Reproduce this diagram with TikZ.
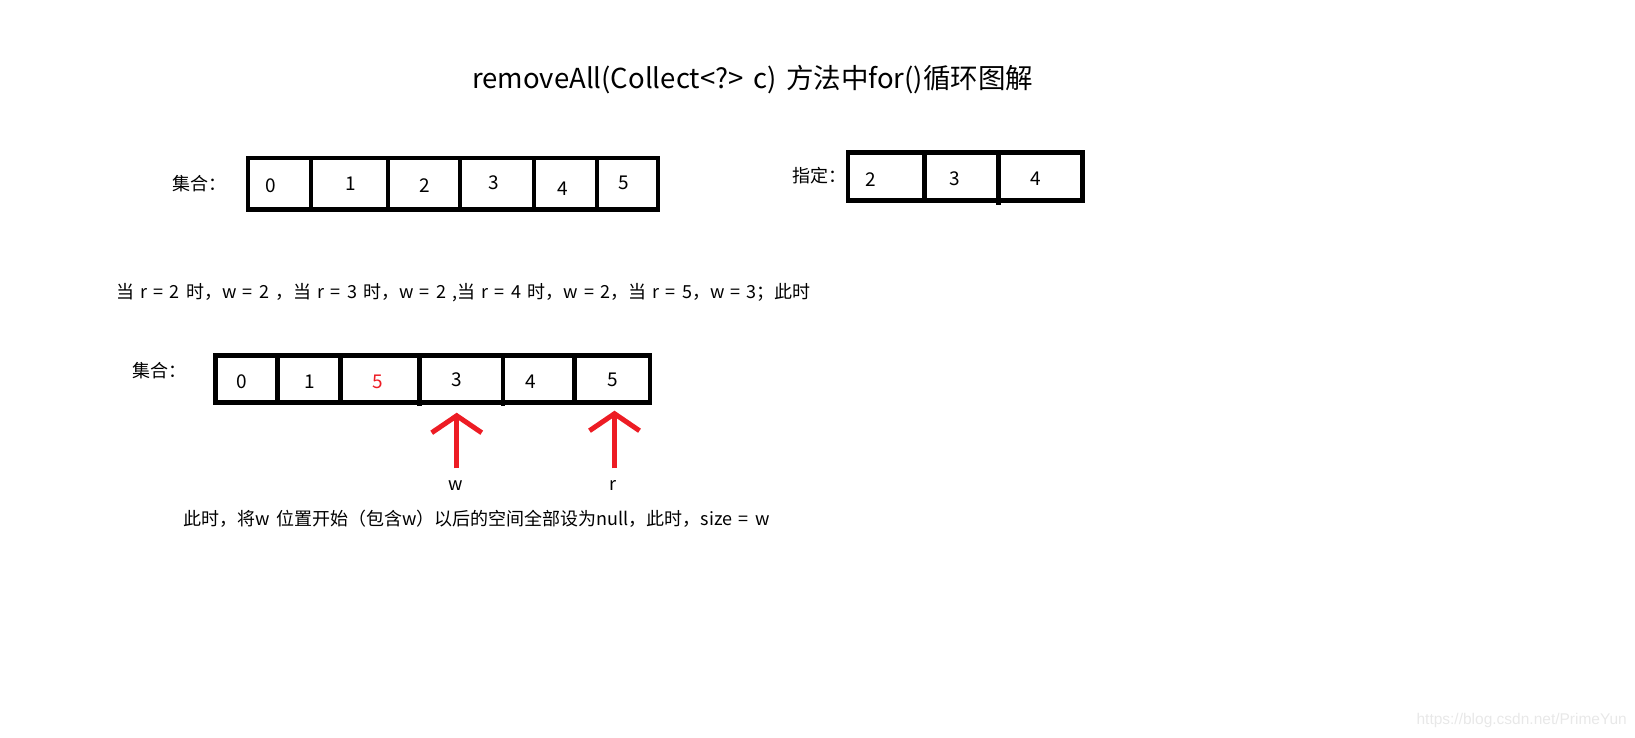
\documentclass[tikz,border=0pt]{standalone}
\usepackage{fontspec}
\setmainfont{Noto Sans CJK SC}[WordSpace=1.55]
\newfontfamily\wmfont{Liberation Sans}
\usetikzlibrary{arrows.meta}
\definecolor{paintred}{RGB}{237,28,36}

\begin{document}
\begin{tikzpicture}[
  frame/.style={line width=4.6pt},
  digit/.style={inner sep=0pt, font=\fontsize{19pt}{19pt}\selectfont},
  caption/.style={inner sep=0pt, anchor=base west, font=\fontsize{18pt}{18pt}\selectfont},
  pointer/.style={paintred, line width=5pt, -{Straight Barb[length=17pt,width=50pt]}}
]
\useasboundingbox (0,0) rectangle (1635pt,-738pt);

\node (title) at (472pt,-88.5pt) [anchor=base west, inner sep=0pt,
      font=\fontsize{27.5pt}{27.5pt}\selectfont] {removeAll(Collect<?> c) 方法中for()循环图解};

% first array
\node (setA) at (172pt,-190pt) [caption] {集合：};
\draw [frame] (248pt,-158pt) rectangle (658pt,-209.5pt);
\draw [frame] (311pt,-158pt) -- ++(0pt,-51.5pt)
              (388pt,-158pt) -- ++(0pt,-51.5pt)
              (460pt,-158pt) -- ++(0pt,-51.5pt)
              (534pt,-158pt) -- ++(0pt,-51.5pt)
              (597pt,-158pt) -- ++(0pt,-51.5pt);
\node (a0) at (270.5pt,-185.3pt) [digit] {0};
\node (a1) at (351pt,-183.8pt) [digit] {1};
\node (a2) at (424.7pt,-186pt) [digit] {2};
\node (a3) at (493.3pt,-183pt) [digit] {3};
\node (a4) at (562.8pt,-188.3pt) [digit] {4};
\node (a5) at (623.3pt,-183pt) [digit] {5};

% given array
\node (given) at (792pt,-182.5pt) [caption] {指定：};
\draw [frame] (848pt,-152.5pt) rectangle (1082.3pt,-200.8pt);
\draw [frame] (924.7pt,-152.5pt) -- ++(0pt,-48.3pt)
              (998.7pt,-152.5pt) -- ++(0pt,-52.5pt);
\node (c2) at (870.5pt,-179.2pt) [digit] {2};
\node (c3) at (954.5pt,-178.5pt) [digit] {3};
\node (c4) at (1035.8pt,-179.2pt) [digit] {4};

\node (steps) at (116pt,-298.5pt) [caption]
      {当 r = 2 时，w = 2 ，当 r = 3 时，w = 2 ,当 r = 4 时，w = 2，当 r = 5，w = 3；此时};

% array after the loop
\node (setB) at (132pt,-377pt) [caption] {集合：};
\draw [frame] (215.3pt,-355.5pt) rectangle (650pt,-402.2pt);
\draw [frame] (277.2pt,-355.5pt) -- ++(0pt,-46.7pt)
              (340.5pt,-355.5pt) -- ++(0pt,-46.7pt)
              (419.5pt,-355.5pt) -- ++(0pt,-50.5pt)
              (502.8pt,-355.5pt) -- ++(0pt,-50.5pt)
              (574.5pt,-355.5pt) -- ++(0pt,-46.7pt);
\node (b0) at (242pt,-381.7pt) [digit] {0};
\node (b1) at (309.7pt,-381.7pt) [digit] {1};
\node (b2) at (377.7pt,-381.7pt) [digit, text=paintred] {5};
\node (b3) at (457.2pt,-379.5pt) [digit] {3};
\node (b4) at (530.8pt,-382.2pt) [digit] {4};
\node (b5) at (612.5pt,-379.5pt) [digit] {5};

\coordinate (wtail) at (456.7pt,-468.3pt);
\coordinate (wtip) at (456.7pt,-412.7pt);
\coordinate (rtail) at (614.5pt,-468.3pt);
\coordinate (rtip) at (614.5pt,-410.7pt);
\draw [pointer] (wtail) -- (wtip);
\draw [pointer] (rtail) -- (rtip);
\node (w) at (455.8pt,-490pt) [caption, anchor=base] {w};
\node (r) at (612.7pt,-490pt) [caption, anchor=base] {r};

\node (note) at (183.5pt,-525pt) [caption]
      {此时，将w 位置开始（包含w）以后的空间全部设为null，此时，size = w};

\node (mark) at (1627pt,-720pt) [anchor=east, inner sep=0pt, text=black!9,
      font=\wmfont\fontsize{15.5pt}{15.5pt}\selectfont] {https://blog.csdn.net/PrimeYun};
\end{tikzpicture}
\end{document}
